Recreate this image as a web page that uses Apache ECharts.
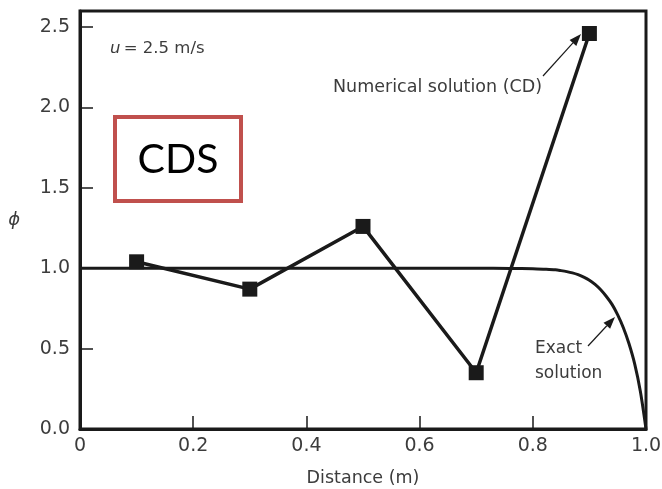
<!DOCTYPE html>
<html><head><meta charset="utf-8">
<script src="https://cdn.jsdelivr.net/npm/echarts@6/dist/echarts.min.js"></script>
<style>html,body{margin:0;padding:0;background:#fff}#c{width:662px;height:489px}</style>
</head><body><div id="c"></div>
<script>
var numX = [0.1, 0.3, 0.5, 0.7, 0.9];
var numY = [1.04, 0.87, 1.26, 0.35, 2.46];
var exactX = [0, 0.2, 0.4, 0.6, 0.7, 0.76, 0.8, 0.82, 0.84, 0.85, 0.86, 0.87, 0.88, 0.89, 0.9, 0.91, 0.92, 0.93, 0.94, 0.95, 0.96, 0.97, 0.98, 0.99, 1.0];
var exactY = [1.0, 1.0, 1.0, 1.0, 1.0, 0.999, 0.997, 0.994, 0.99, 0.985, 0.979, 0.971, 0.96, 0.945, 0.925, 0.899, 0.866, 0.824, 0.775, 0.71, 0.63, 0.53, 0.405, 0.235, 0.0];
var xTicks = ['0', '0.2', '0.4', '0.6', '0.8', '1.0'];
var yTicks = ['0.0', '0.5', '1.0', '1.5', '2.0', '2.5'];

var chart = echarts.init(document.getElementById('c'));
var ink = '#1a1a1a';
var lab = '#3c3c3c';
var font = 'DejaVu Sans';
function pairs(xs, ys){ return xs.map(function(x,i){ return [x, ys[i]]; }); }
function arrow(x1,y1,x2,y2){
  var a = Math.atan2(y2-y1, x2-x1), L = 12, W = 4.5;
  var bx = x2 - L*Math.cos(a), by = y2 - L*Math.sin(a);
  var px = -Math.sin(a)*W, py = Math.cos(a)*W;
  return [
    {type:'line', shape:{x1:x1,y1:y1,x2:bx,y2:by}, style:{stroke:ink, lineWidth:1.2}, z:10},
    {type:'polygon', shape:{points:[[x2,y2],[bx+px,by+py],[bx-px,by-py]]}, style:{fill:ink}, z:10}
  ];
}
var graphics = [
  {type:'text', left:110, top:40, z:10, style:{rich:{i:{fontStyle:'italic',fontSize:16.5,fontFamily:font,fill:lab},n:{fontSize:16.5,fontFamily:font,fill:lab}}, text:'{i|u} {n|= 2.5 m/s}'}},
  {type:'text', left:333, top:78, z:10, style:{text:'Numerical solution (CD)', fontSize:17.5, fontFamily:font, fill:lab}},
  {type:'text', left:535, top:336, z:10, style:{text:'Exact\nsolution', fontSize:17, lineHeight:25, fontFamily:font, fill:lab}},
  {type:'rect', shape:{x:115, y:117, width:126, height:84}, style:{fill:'#fff', stroke:'#c0504d', lineWidth:4}, z:10},
  {type:'text', z:11, style:{text:'CDS', x:178, y:160, align:'center', verticalAlign:'middle', fontSize:41, fontFamily:'Lato', fill:'#000'}}
].concat(arrow(543,76,581,34)).concat(arrow(588,346,615,317));

chart.setOption({
  animation:false,
  grid:{left:80, right:16, top:11, bottom:60, outerBoundsMode:'none', show:true, borderColor:ink, borderWidth:3, backgroundColor:'transparent'},
  xAxis:{type:'value', min:0, max:1, interval:0.2,
    name:'Distance (m)', nameLocation:'middle', nameGap:40,
    nameTextStyle:{fontSize:17.5, fontFamily:font, color:lab},
    axisLine:{show:true, onZero:false, lineStyle:{color:ink, width:3}},
    axisTick:{show:true, inside:true, length:13, lineStyle:{color:ink, width:1.5}},
    axisLabel:{margin:8, fontSize:19, fontFamily:font, color:lab,
      formatter:function(v){ var i=Math.round(v/0.2); return Math.abs(v-i*0.2)<1e-6 ? xTicks[i] : ''; }},
    splitLine:{show:false}},
  yAxis:{type:'value', min:0, max:2.6, interval:0.5,
    name:'\u03d5', nameLocation:'middle', nameGap:60, nameRotate:0,
    nameTextStyle:{fontSize:18, fontStyle:'italic', fontFamily:font, color:lab},
    axisLine:{show:true, onZero:false, lineStyle:{color:ink, width:3}},
    axisTick:{show:true, inside:true, length:13, lineStyle:{color:ink, width:1.5}},
    axisLabel:{margin:10, fontSize:19, fontFamily:font, color:lab,
      formatter:function(v){ var i=Math.round(v/0.5); return Math.abs(v-i*0.5)<1e-6 && i<yTicks.length ? yTicks[i] : ''; }},
    splitLine:{show:false}},
  series:[
    {type:'line', data:pairs(exactX, exactY), smooth:0.3, showSymbol:false, symbol:'none',
      lineStyle:{color:ink, width:3}, z:3},
    {type:'line', data:pairs(numX, numY), symbol:'rect', symbolSize:15,
      itemStyle:{color:ink}, lineStyle:{color:ink, width:3.5}, z:4}
  ],
  graphic:graphics
});
</script></body></html>
